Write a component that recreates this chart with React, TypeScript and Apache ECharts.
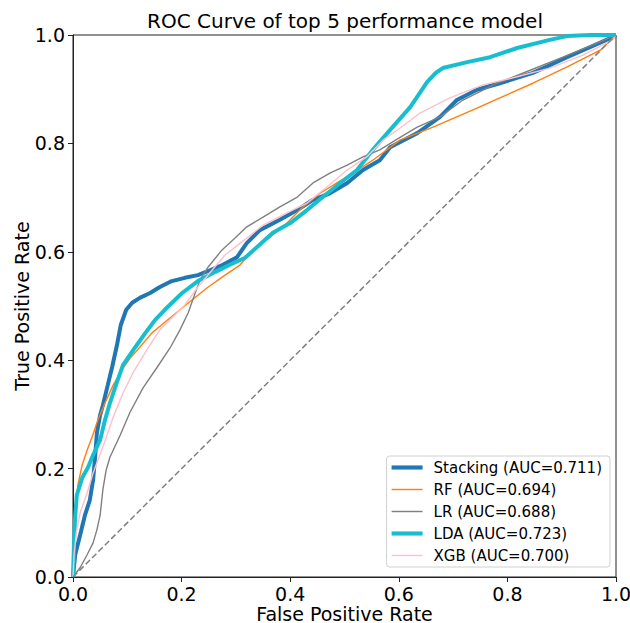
import React, { useEffect, useRef } from "react";
import * as echarts from "echarts";

const FONT = "DejaVu Sans";

const seriesNames = [
  "Stacking (AUC=0.711)",
  "RF (AUC=0.694)",
  "LR (AUC=0.688)",
  "LDA (AUC=0.723)",
  "XGB (AUC=0.700)",
];

const stackingRoc: [number, number][] = [
  [0, 0], [0.004, 0.041], [0.013, 0.077], [0.022, 0.114], [0.031, 0.142], [0.037, 0.179],
  [0.041, 0.225], [0.044, 0.266], [0.05, 0.299], [0.055, 0.317], [0.064, 0.354], [0.072, 0.387],
  [0.081, 0.428], [0.088, 0.465], [0.098, 0.493], [0.109, 0.506], [0.123, 0.515], [0.142, 0.524],
  [0.16, 0.535], [0.182, 0.546], [0.206, 0.552], [0.23, 0.557], [0.252, 0.566], [0.276, 0.576],
  [0.302, 0.59], [0.32, 0.616], [0.344, 0.64], [0.381, 0.659], [0.413, 0.677], [0.442, 0.696],
  [0.473, 0.708], [0.505, 0.727], [0.534, 0.751], [0.565, 0.769], [0.584, 0.793], [0.634, 0.819],
  [0.676, 0.849], [0.707, 0.88], [0.744, 0.899], [0.786, 0.911], [0.847, 0.93], [0.91, 0.959],
  [0.994, 0.996], [1, 1],
];

const rfRoc: [number, number][] = [
  [0, 0], [0.002, 0.059], [0.004, 0.105], [0.009, 0.17], [0.017, 0.207], [0.026, 0.234],
  [0.035, 0.258], [0.046, 0.29], [0.059, 0.321], [0.074, 0.354], [0.09, 0.382], [0.107, 0.406],
  [0.123, 0.424], [0.145, 0.45], [0.169, 0.47], [0.197, 0.493], [0.219, 0.511], [0.249, 0.535],
  [0.28, 0.557], [0.308, 0.576], [0.331, 0.603], [0.363, 0.627], [0.394, 0.653], [0.424, 0.683],
  [0.455, 0.708], [0.486, 0.727], [0.516, 0.745], [0.552, 0.769], [0.602, 0.806], [0.663, 0.83],
  [0.744, 0.865], [0.782, 0.882], [0.847, 0.911], [0.91, 0.941], [0.971, 0.972], [1, 1],
];

const lrRoc: [number, number][] = [
  [0, 0], [0.013, 0.017], [0.026, 0.041], [0.037, 0.063], [0.044, 0.087], [0.05, 0.114],
  [0.055, 0.161], [0.061, 0.197], [0.068, 0.221], [0.087, 0.262], [0.105, 0.304], [0.129, 0.349],
  [0.155, 0.387], [0.179, 0.423], [0.197, 0.456], [0.212, 0.487], [0.225, 0.524], [0.234, 0.548],
  [0.249, 0.572], [0.274, 0.603], [0.298, 0.625], [0.32, 0.646], [0.35, 0.664], [0.381, 0.683],
  [0.413, 0.701], [0.442, 0.727], [0.473, 0.745], [0.505, 0.76], [0.534, 0.775], [0.565, 0.788],
  [0.597, 0.808], [0.634, 0.83], [0.676, 0.849], [0.718, 0.88], [0.781, 0.911], [0.842, 0.935],
  [0.902, 0.959], [0.965, 0.985], [1, 1],
];

const ldaRoc: [number, number][] = [
  [0, 0], [0.002, 0.068], [0.004, 0.111], [0.007, 0.151], [0.017, 0.183], [0.028, 0.203],
  [0.037, 0.225], [0.05, 0.253], [0.059, 0.29], [0.068, 0.321], [0.079, 0.354], [0.092, 0.391],
  [0.114, 0.423], [0.133, 0.45], [0.151, 0.474], [0.169, 0.493], [0.201, 0.524], [0.23, 0.546],
  [0.262, 0.563], [0.289, 0.576], [0.317, 0.589], [0.339, 0.609], [0.368, 0.635], [0.4, 0.653],
  [0.431, 0.677], [0.46, 0.701], [0.492, 0.727], [0.523, 0.751], [0.552, 0.788], [0.584, 0.825],
  [0.621, 0.867], [0.64, 0.895], [0.652, 0.913], [0.668, 0.93], [0.681, 0.939], [0.726, 0.95],
  [0.768, 0.959], [0.818, 0.976], [0.878, 0.991], [0.91, 0.998], [0.952, 1], [1, 1],
];

const xgbRoc: [number, number][] = [
  [0, 0], [0.002, 0.041], [0.006, 0.081], [0.013, 0.118], [0.026, 0.155], [0.037, 0.192],
  [0.055, 0.24], [0.074, 0.295], [0.092, 0.339], [0.11, 0.376], [0.136, 0.419], [0.16, 0.456],
  [0.182, 0.478], [0.206, 0.502], [0.23, 0.535], [0.256, 0.566], [0.28, 0.594], [0.308, 0.616],
  [0.35, 0.649], [0.394, 0.672], [0.431, 0.69], [0.468, 0.72], [0.505, 0.751], [0.541, 0.775],
  [0.571, 0.806], [0.602, 0.828], [0.639, 0.856], [0.694, 0.884], [0.755, 0.908], [0.818, 0.923],
  [0.878, 0.939], [0.939, 0.963], [0.994, 0.991], [1, 1],
];

const chanceLine: [number, number][] = [[0, 0], [1, 1]];

const axisTicks = [0, 0.2, 0.4, 0.6, 0.8, 1.0];

const seriesData = [stackingRoc, rfRoc, lrRoc, ldaRoc, xgbRoc];
const seriesColors = ["#1f77b4", "#ff7f0e", "#808080", "#17becf", "#ffc0cb"];
const seriesWidths = [4, 1.4, 1.4, 4, 1.4];

export default function App() {
  const ref = useRef<HTMLDivElement>(null);
  useEffect(() => {
    if (!ref.current) return;
    const chart = echarts.init(ref.current, undefined, { renderer: "svg" });
    const axisCommon = {
      type: "value" as const,
      min: axisTicks[0],
      max: axisTicks[axisTicks.length - 1],
      interval: 0.2,
      splitLine: { show: false },
      axisLine: { show: true, onZero: false, lineStyle: { color: "#222", width: 1 } },
      axisTick: { show: true, inside: false, length: 5, lineStyle: { color: "#222", width: 1 } },
      axisLabel: {
        color: "#000",
        fontSize: 19,
        fontFamily: FONT,
        formatter: (v: number) => v.toFixed(1),
      },
      nameLocation: "middle" as const,
      nameMoveOverlap: false,
      nameTextStyle: { color: "#000", fontSize: 19, fontFamily: FONT },
    };
    chart.setOption({
      animation: false,
      backgroundColor: "#fff",
      grid: {
        left: 73,
        right: 14,
        top: 35,
        bottom: 46,
        containLabel: false,
        outerBoundsMode: "none",
        show: true,
        borderColor: "#222",
        borderWidth: 1,
        backgroundColor: "transparent",
      },
      graphic: [
        {
          type: "text",
          x: 345,
          y: 21,
          style: {
            text: "ROC Curve of top 5 performance model",
            fontSize: 20,
            fontFamily: FONT,
            fill: "#000",
            textAlign: "center",
            textVerticalAlign: "middle",
          },
        },
      ],
      xAxis: { ...axisCommon, name: "False Positive Rate", nameGap: 27, axisLabel: { ...axisCommon.axisLabel, margin: 7 } },
      yAxis: { ...axisCommon, name: "True Positive Rate", nameGap: 42, axisLabel: { ...axisCommon.axisLabel, margin: 8 } },
      legend: {
        data: seriesNames.map((name, i) => ({
          name,
          icon: seriesWidths[i] > 2 ? "path://M0,0H30V4H0Z" : "path://M0,0H30V1.4H0Z",
        })),
        orient: "vertical",
        right: 20,
        bottom: 56,
        backgroundColor: "#fff",
        borderColor: "#d0d0d0",
        borderWidth: 1,
        borderRadius: 3,
        padding: [4, 8, 4, 5],
        itemGap: 7,
        itemWidth: 31,
        itemHeight: 16,
        symbolKeepAspect: true,
        textStyle: { color: "#000", fontSize: 15, fontFamily: FONT, padding: [0, 0, 0, 6] },
      },
      series: [
        ...seriesNames.map((name, i) => ({
          name,
          type: "line",
          data: seriesData[i],
          showSymbol: false,
          symbol: "none",
          color: seriesColors[i],
          lineStyle: { color: seriesColors[i], width: seriesWidths[i] },
          z: 3,
        })),
        {
          name: "chance",
          type: "line",
          data: chanceLine,
          symbol: "none",
          color: "#808080",
          lineStyle: { color: "#808080", width: 1.5, type: [6, 3] },
          z: 4,
        },
      ],
    });
    return () => chart.dispose();
  }, []);
  return (
    <div
      ref={ref}
      style={{ position: "absolute", left: 0, top: 0, width: 630, height: 623 }}
    />
  );
}
